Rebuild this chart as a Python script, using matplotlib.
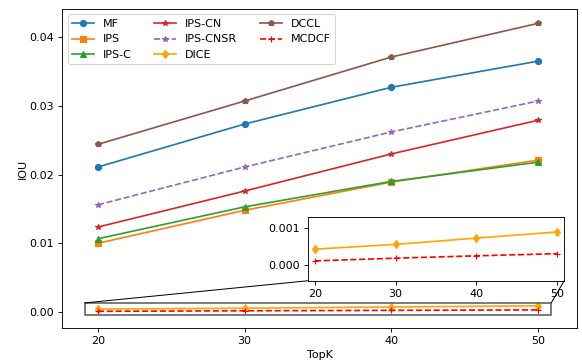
import matplotlib
matplotlib.use("Agg")
import matplotlib.pyplot as plt
from matplotlib.patches import Rectangle, ConnectionPatch
import numpy as np

topk = [20, 30, 40, 50]
mf = [0.0211, 0.02735, 0.0327, 0.0365]
ips = [0.0100, 0.0148, 0.0189, 0.0221]
ips_c = [0.01066, 0.0153, 0.0190, 0.0218]
ips_cn = [0.01236, 0.0176, 0.0230, 0.0279]
ips_cnsr = [0.0156, 0.0211, 0.0262, 0.0307]
dice = [0.000425, 0.000556, 0.00073, 0.0009]
dccl = [0.0244, 0.0307, 0.0371, 0.0420]
mcdcf = [0.0001, 0.000175, 0.00024, 0.0003]

# zoom window (data coords)
zx0, zx1 = 19.1, 50.9
zy0, zy1 = -0.00045, 0.00132

DPI = 80
fig = plt.figure(figsize=(582/DPI, 363/DPI), dpi=DPI)
ax = fig.add_axes([0.1065, 0.0964, 0.885, 0.879])

ax.plot(topk, mf, marker='o', markersize=5.5, color='C0', label='MF')
ax.plot(topk, ips, marker='s', markersize=5.5, color='C1', label='IPS')
ax.plot(topk, ips_c, marker='^', markersize=5.5, color='C2', label='IPS-C')
ax.plot(topk, ips_cn, marker='*', markersize=5.5, color='C3', label='IPS-CN')
ax.plot(topk, ips_cnsr, marker='*', markersize=5.5, linestyle='--', color='C4', label='IPS-CNSR')
ax.plot(topk, dice, marker='d', markersize=5.5, color='orange', label='DICE')
ax.plot(topk, dccl, marker='p', markersize=5.5, color='C5', label='DCCL')
ax.plot(topk, mcdcf, marker='+', markersize=5.5, linestyle='--', color='red', label='MCDCF')

ax.set_xlim(17.55, 52.66)
ax.set_ylim(-0.00233, 0.0441)
ax.set_xticks(topk)
ax.set_xlabel('TopK')
ax.set_ylabel('IOU', labelpad=1)
ax.legend(ncol=3, loc='upper left')

# zoomed inset for the two small series
axins = ax.inset_axes([0.477, 0.148, 0.498, 0.2006])
axins.plot(topk, dice, marker='d', markersize=5.5, color='orange')
axins.plot(topk, mcdcf, marker='+', markersize=5.5, linestyle='--', color='red')
axins.set_xlim(zx0, zx1)
axins.set_ylim(zy0, zy1)
axins.set_xticks(topk)
axins.set_yticks([0.0, 0.001])

rect = Rectangle((zx0, zy0), zx1 - zx0, zy1 - zy0, fill=False,
                 edgecolor='0.35', linewidth=1.4, zorder=4)
ax.add_patch(rect)
for xa, xb in [(0, zx0), (1, zx1)]:
    con = ConnectionPatch(xyA=(xa, 0), coordsA=axins.transAxes,
                          xyB=(xb, zy1), coordsB=ax.transData,
                          color='black', linewidth=0.9)
    fig.add_artist(con)

fig.savefig('out.png', dpi=DPI)
